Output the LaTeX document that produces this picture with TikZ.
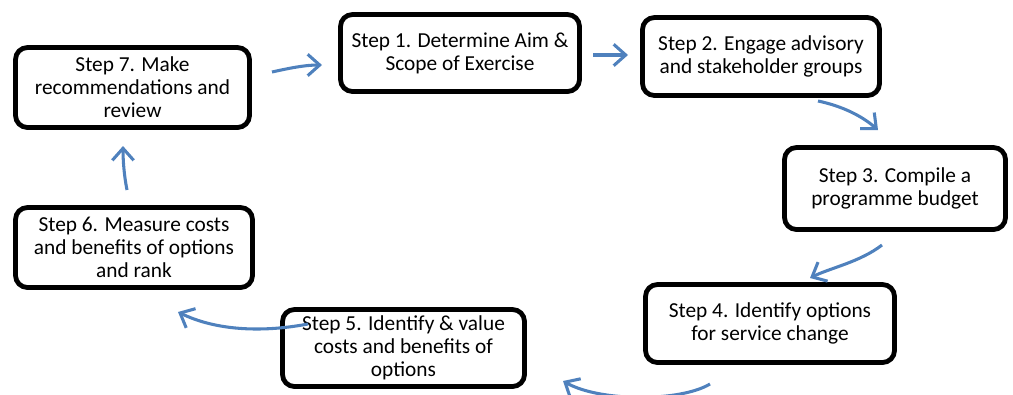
\documentclass[tikz,border=0pt]{standalone}
\usepackage{fontspec}
\setmainfont{Carlito}
\usetikzlibrary{arrows.meta}
\definecolor{arrowblue}{RGB}{79,129,189}
\begin{document}
\begin{tikzpicture}[x=0.75pt,y=-0.75pt,
  stepbox/.style={draw=black, line width=3.6pt, rounded corners=9pt, fill=white,
    align=center, inner sep=0pt, font=\fontsize{16}{17.3}\selectfont},
  flow/.style={draw=arrowblue, line width=2.3pt,
    -{Straight Barb[length=9pt,width=16pt,line width=2.3pt]}}
]
\useasboundingbox (0,0) rectangle (1013,394);

\node[stepbox, minimum width=175.5pt, minimum height=60pt] (s7) at (132.5,87.5)
  {Step 7. Make\\recommendations and\\review};
\node[stepbox, minimum width=179.25pt, minimum height=57.75pt] (s1) at (460,53)
  {Step 1. Determine Aim \&\\Scope of Exercise};
\node[stepbox, minimum width=177.75pt, minimum height=58.5pt] (s2) at (761,56.5)
  {Step 2. Engage advisory\\and stakeholder groups};
\node[stepbox, minimum width=165.75pt, minimum height=61.5pt] (s3) at (895,188.5)
  {Step 3. Compile a\\programme budget};
\node[stepbox, minimum width=186.75pt, minimum height=58.5pt] (s4) at (770,323.5)
  {Step 4. Identify options\\for service change};
\node[stepbox, minimum width=181.5pt, minimum height=57.75pt] (s5) at (403.5,348)
  {Step 5. Identify \& value\\costs and benefits of\\options};
\node[stepbox, minimum width=177.75pt, minimum height=60pt] (s6) at (134,247.5)
  {Step 6. Measure costs\\and benefits of options\\and rank};

% arrow end points
\coordinate (a7s) at (272,72);   \coordinate (a7e) at (322,65);
\coordinate (a1s) at (593,55);   \coordinate (a1e) at (628,55);
\coordinate (a2s) at (818,101);  \coordinate (a2e) at (878,130);
\coordinate (a3s) at (882,245);  \coordinate (a3e) at (810,278);
\coordinate (a4s) at (710,384);  \coordinate (a4e) at (563,381);
\coordinate (a5s) at (308,324);  \coordinate (a5e) at (178,312);
\coordinate (a6s) at (127,190);  \coordinate (a6e) at (123,146);

\draw[flow] (a7s) .. controls (290,68) and (305,65) .. (a7e);
\draw[flow] (a1s) -- (a1e);
\draw[flow] (a2s) .. controls (842,106) and (862,116) .. (a2e);
\draw[flow] (a3s) .. controls (860,262) and (830,268) .. (a3e);
\draw[flow] (a4s) .. controls (680,402) and (600,402) .. (a4e);
\draw[flow] (a5s) .. controls (260,333) and (215,330) .. (a5e);
\draw[flow] (a6s) .. controls (124,175) and (123,160) .. (a6e);
\end{tikzpicture}
\end{document}
